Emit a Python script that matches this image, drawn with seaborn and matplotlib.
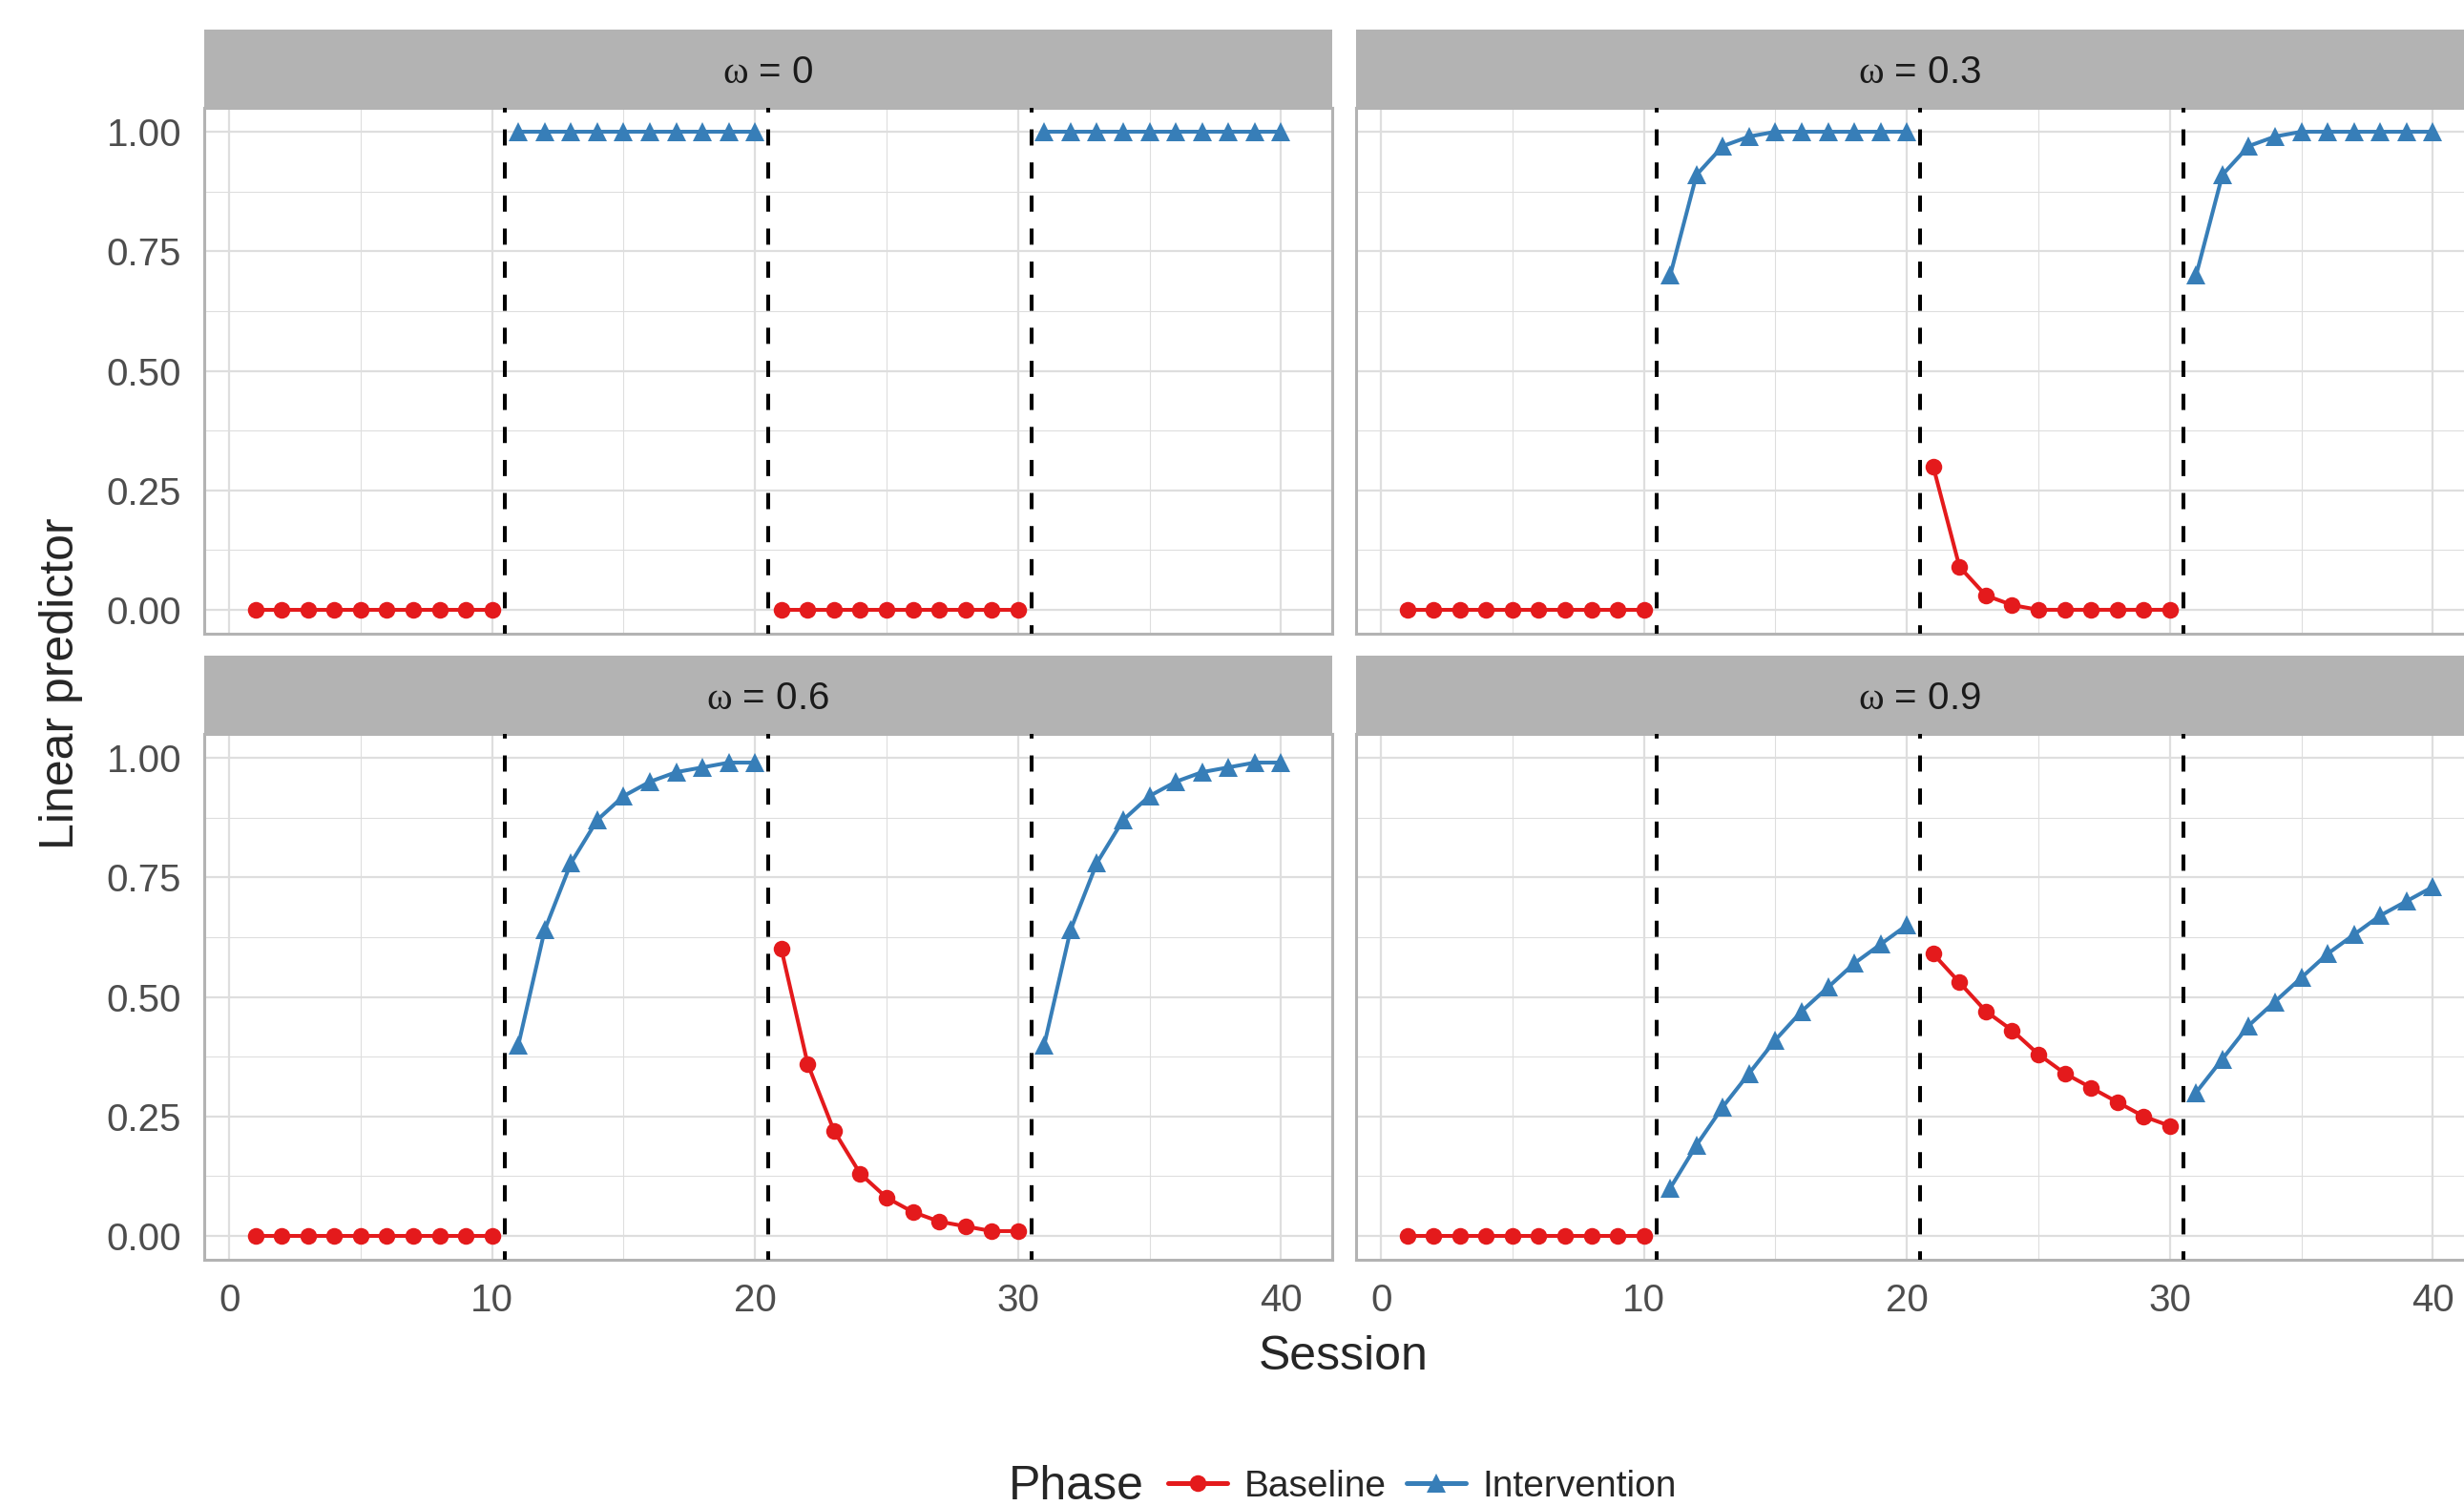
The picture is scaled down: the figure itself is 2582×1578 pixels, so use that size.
import pandas as pd
import seaborn as sns
import matplotlib.pyplot as plt
from matplotlib.patches import Rectangle
from matplotlib.lines import Line2D

# ---------------- data ----------------
sessions = list(range(1, 41))
phases = (['Baseline'] * 10 + ['Intervention'] * 10 +
          ['Baseline'] * 10 + ['Intervention'] * 10)
segments = [1] * 10 + [2] * 10 + [3] * 10 + [4] * 10
phase_changes = [10.5, 20.5, 30.5]

omega_labels = ['0', '0.3', '0.6', '0.9']

vals_w00 = [0.00, 0.00, 0.00, 0.00, 0.00, 0.00, 0.00, 0.00, 0.00, 0.00,
            1.00, 1.00, 1.00, 1.00, 1.00, 1.00, 1.00, 1.00, 1.00, 1.00,
            0.00, 0.00, 0.00, 0.00, 0.00, 0.00, 0.00, 0.00, 0.00, 0.00,
            1.00, 1.00, 1.00, 1.00, 1.00, 1.00, 1.00, 1.00, 1.00, 1.00]
vals_w03 = [0.00, 0.00, 0.00, 0.00, 0.00, 0.00, 0.00, 0.00, 0.00, 0.00,
            0.70, 0.91, 0.97, 0.99, 1.00, 1.00, 1.00, 1.00, 1.00, 1.00,
            0.30, 0.09, 0.03, 0.01, 0.00, 0.00, 0.00, 0.00, 0.00, 0.00,
            0.70, 0.91, 0.97, 0.99, 1.00, 1.00, 1.00, 1.00, 1.00, 1.00]
vals_w06 = [0.00, 0.00, 0.00, 0.00, 0.00, 0.00, 0.00, 0.00, 0.00, 0.00,
            0.40, 0.64, 0.78, 0.87, 0.92, 0.95, 0.97, 0.98, 0.99, 0.99,
            0.60, 0.36, 0.22, 0.13, 0.08, 0.05, 0.03, 0.02, 0.01, 0.01,
            0.40, 0.64, 0.78, 0.87, 0.92, 0.95, 0.97, 0.98, 0.99, 0.99]
vals_w09 = [0.00, 0.00, 0.00, 0.00, 0.00, 0.00, 0.00, 0.00, 0.00, 0.00,
            0.10, 0.19, 0.27, 0.34, 0.41, 0.47, 0.52, 0.57, 0.61, 0.65,
            0.59, 0.53, 0.47, 0.43, 0.38, 0.34, 0.31, 0.28, 0.25, 0.23,
            0.30, 0.37, 0.44, 0.49, 0.54, 0.59, 0.63, 0.67, 0.70, 0.73]
all_vals = [vals_w00, vals_w03, vals_w06, vals_w09]

frames = []
for lab, v in zip(omega_labels, all_vals):
    frames.append(pd.DataFrame({'omega': lab, 'Session': sessions, 'value': v,
                                'Phase': phases, 'segment': segments}))
df = pd.concat(frames, ignore_index=True)

# ---------------- style ----------------
sns.set_style('white')
plt.rcParams['font.family'] = ['Liberation Sans', 'DejaVu Sans']
plt.rcParams['mathtext.fontset'] = 'custom'
plt.rcParams['mathtext.rm'] = 'Liberation Sans'
plt.rcParams['mathtext.it'] = 'Liberation Serif'

colors = {'Baseline': '#E41A1C', 'Intervention': '#377EB8'}
markers = {'Baseline': 'o', 'Intervention': '^'}
msizes = {'Baseline': 6.3, 'Intervention': 7.4}
grey70 = '#B3B3B3'
grid_col = '#DEDEDE'

W, H = 2582, 1578
fig = plt.figure(figsize=(W / 200, H / 200), dpi=200)

# panel boxes in pixels: (left, top, right, bottom)
boxes = [(214, 113, 1396, 664), (1421, 113, 2603, 664),
         (214, 769, 1396, 1320), (1421, 769, 2603, 1320)]
strip_px = 82

axes = []
for i, (lab, box) in enumerate(zip(omega_labels, boxes)):
    l, t, r, b = box
    ax = fig.add_axes([l / W, (H - b) / H, (r - l) / W, (b - t) / H])
    axes.append(ax)
    sub = df[df['omega'] == lab]

    for ph in ['Baseline', 'Intervention']:
        sns.lineplot(data=sub[sub['Phase'] == ph], x='Session', y='value',
                     units='segment', estimator=None, color=colors[ph],
                     marker=markers[ph], markersize=msizes[ph],
                     markeredgewidth=0, linewidth=1.45, legend=False, ax=ax,
                     zorder=3)

    for xc in phase_changes:
        ax.axvline(xc, color='black', linestyle=(2, (4.2, 4.4)),
                   linewidth=1.45, zorder=4)

    ax.set_xlim(-0.95, 41.95)
    ax.set_ylim(-0.05, 1.05)
    ax.set_xticks([0, 10, 20, 30, 40])
    ax.set_xticks([5, 15, 25, 35], minor=True)
    ax.set_yticks([0, 0.25, 0.5, 0.75, 1.0])
    ax.set_yticks([0.125, 0.375, 0.625, 0.875], minor=True)
    ax.grid(which='major', color=grid_col, linewidth=0.8, zorder=0)
    ax.grid(which='minor', color=grid_col, linewidth=0.4, zorder=0)
    ax.set_axisbelow(True)
    for sp in ax.spines.values():
        sp.set_color(grey70)
        sp.set_linewidth(1.1)
    ax.set_xlabel('')
    ax.set_ylabel('')

    ax.tick_params(which='minor', length=0)
    ax.tick_params(which='major', color=grey70, width=0.8, length=4.3,
                   labelsize=14.5, labelcolor='#4D4D4D', pad=4.3)
    if i % 2 == 1:
        ax.tick_params(axis='y', length=0, labelleft=False)
    else:
        ax.set_yticklabels(['0.00', '0.25', '0.50', '0.75', '1.00'])
    if i < 2:
        ax.tick_params(axis='x', length=0, labelbottom=False)

    # strip
    sh = strip_px / (b - t)
    ax.add_patch(Rectangle((0, 1), 1, sh, transform=ax.transAxes,
                           facecolor=grey70, edgecolor='none', clip_on=False))
    ax.text(0.5, 1 + sh / 2 - 4 / (b - t), r'$\omega\,=\,%s$' % lab,
            transform=ax.transAxes, ha='center', va='center',
            fontsize=14.5, color='#1A1A1A')

# axis titles
fig.text(1408 / W, (H - 1422) / H, 'Session', ha='center', va='center',
         fontsize=18)
fig.text(64 / W, (H - 716) / H, 'Linear predictor', ha='center',
         va='center', rotation=90, fontsize=18)

# legend
fig.text(1057 / W, (H - 1558) / H, 'Phase', ha='left', va='center',
         fontsize=18)
handles = [Line2D([], [], color=colors[p], marker=markers[p],
                  markersize=msizes[p], markeredgewidth=0, linewidth=1.8)
           for p in ['Baseline', 'Intervention']]
fig.legend(handles, ['Baseline', 'Intervention'], loc='center left',
           bbox_to_anchor=(1224 / W, (H - 1558) / H), ncol=2, frameon=False,
           fontsize=14, handlelength=1.6, handletextpad=0.45,
           columnspacing=0.55, borderpad=0, borderaxespad=0)

fig.savefig('out.png', dpi=200)
